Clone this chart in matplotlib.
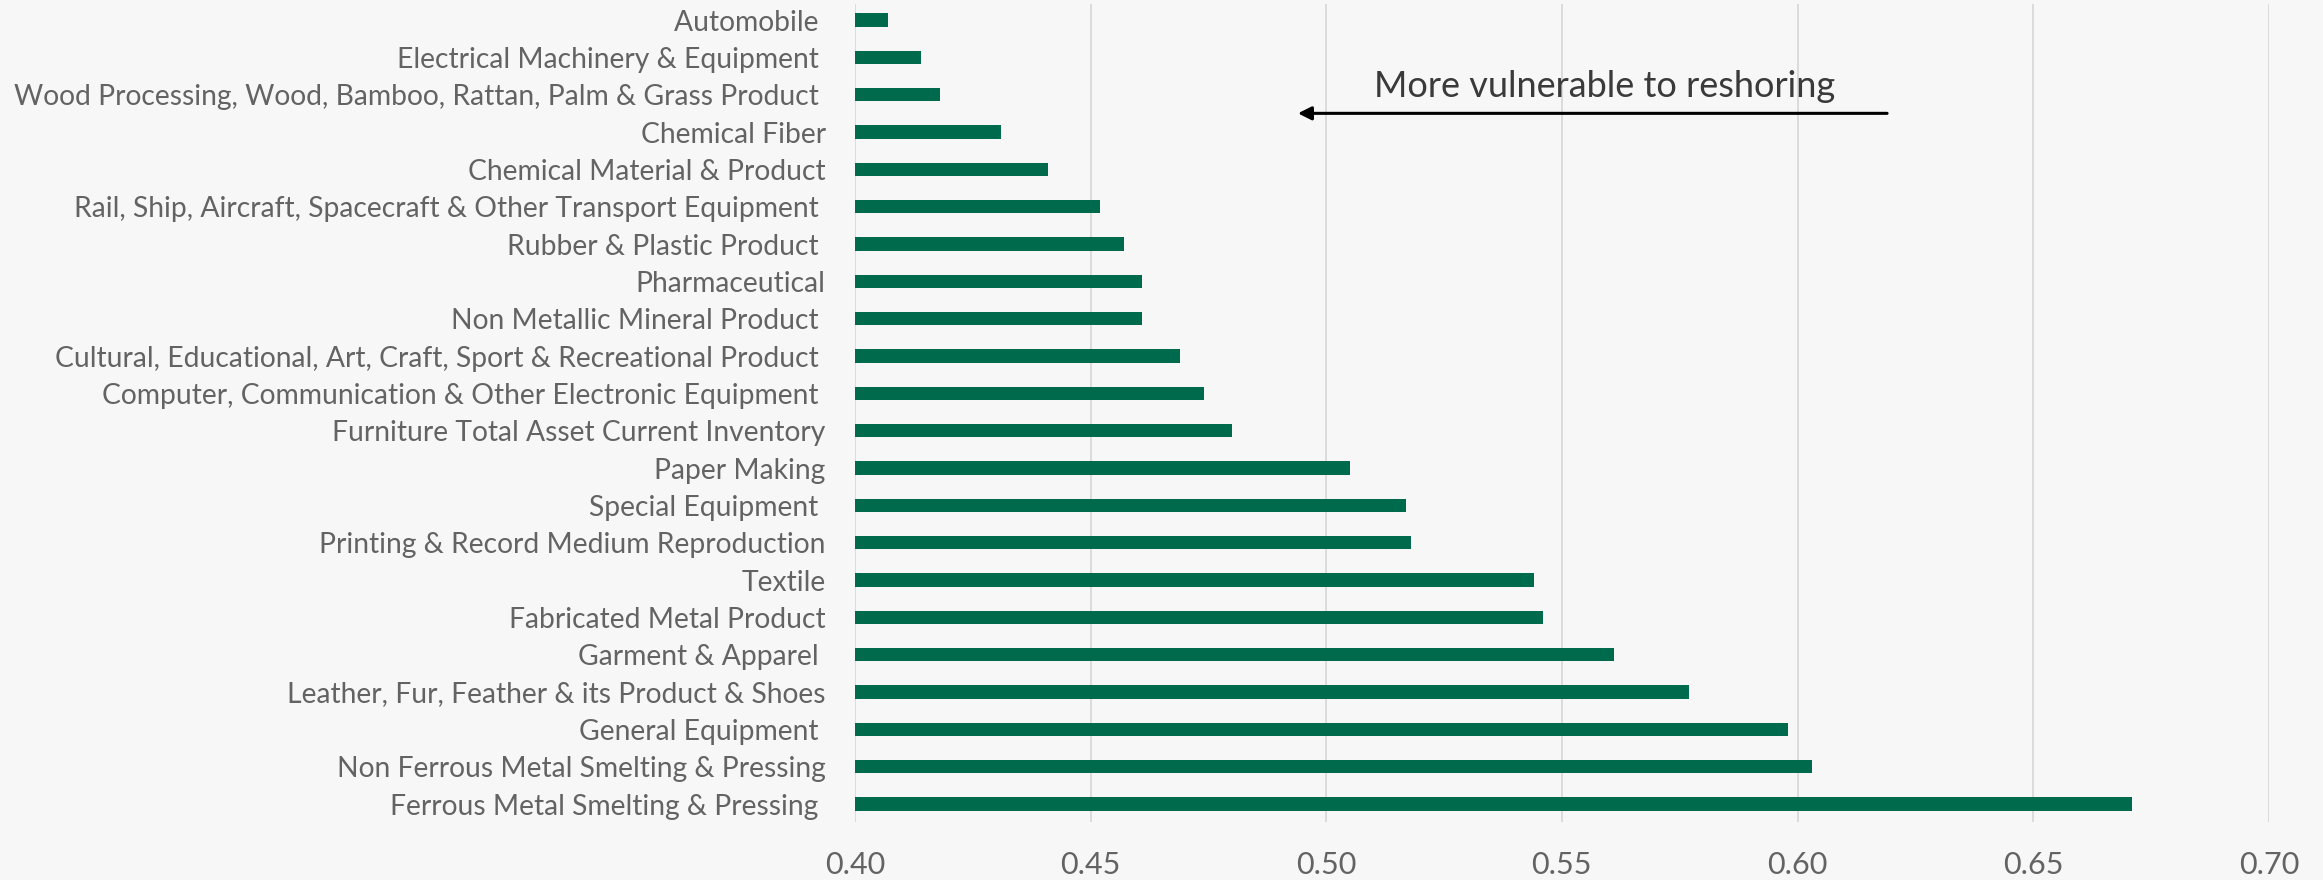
import matplotlib
matplotlib.use("agg")
import matplotlib.pyplot as plt

# Industries, listed top to bottom as in the chart
industries = [
    "Automobile ",
    "Electrical Machinery & Equipment ",
    "Wood Processing, Wood, Bamboo, Rattan, Palm & Grass Product ",
    "Chemical Fiber",
    "Chemical Material & Product",
    "Rail, Ship, Aircraft, Spacecraft & Other Transport Equipment ",
    "Rubber & Plastic Product ",
    "Pharmaceutical",
    "Non Metallic Mineral Product ",
    "Cultural, Educational, Art, Craft, Sport & Recreational Product ",
    "Computer, Communication & Other Electronic Equipment ",
    "Furniture Total Asset Current Inventory",
    "Paper Making",
    "Special Equipment ",
    "Printing & Record Medium Reproduction",
    "Textile",
    "Fabricated Metal Product",
    "Garment & Apparel ",
    "Leather, Fur, Feather & its Product & Shoes",
    "General Equipment ",
    "Non Ferrous Metal Smelting & Pressing",
    "Ferrous Metal Smelting & Pressing ",
]
scores = [
    0.407, 0.414, 0.418, 0.431, 0.441, 0.452, 0.457, 0.461, 0.461, 0.469, 0.474,
    0.480, 0.505, 0.517, 0.518, 0.544, 0.546, 0.561, 0.577, 0.598, 0.603, 0.671,
]
x_ticks = [0.40, 0.45, 0.50, 0.55, 0.60, 0.65, 0.70]

plt.rcParams["font.family"] = ["Lato", "DejaVu Sans"]

bg = "#f7f7f8"
green = "#006b4c"
grey_text = "#636363"

fig = plt.figure(figsize=(23.23, 8.8), dpi=100, facecolor=bg)
ax = fig.add_axes([0.368, 0.066, 0.6087, 0.9295])
ax.set_facecolor(bg)

pos = list(range(len(industries)))
ax.barh(pos, [s - 0.40 for s in scores], left=0.40, height=0.36, color=green, zorder=3)

ax.set_xlim(0.40, 0.70)
ax.set_ylim(len(industries) - 0.52, -0.43)
ax.set_yticks(pos)
ax.set_yticklabels(industries)
ax.set_xticks(x_ticks)
ax.set_xticklabels([f"{t:.2f}" for t in x_ticks])
ax.tick_params(axis="y", length=0, pad=21, labelsize=20.3, labelcolor=grey_text)
ax.tick_params(axis="x", length=0, pad=21, labelsize=22, labelcolor=grey_text)
ax.grid(axis="x", color="#d9d9d9", linewidth=1.3, zorder=0)
for s in ax.spines.values():
    s.set_visible(False)

ax.annotate("", xy=(0.494, 2.5), xytext=(0.619, 2.5),
            arrowprops=dict(arrowstyle="-|>", color="black", lw=2.2,
                            mutation_scale=20, shrinkA=0, shrinkB=0), zorder=4)
ax.text(0.559, 1.78, "More vulnerable to reshoring", ha="center", va="center",
        fontsize=26, color="#3a3a3a", zorder=4)

fig.savefig("out.png", dpi=100, facecolor=bg)
